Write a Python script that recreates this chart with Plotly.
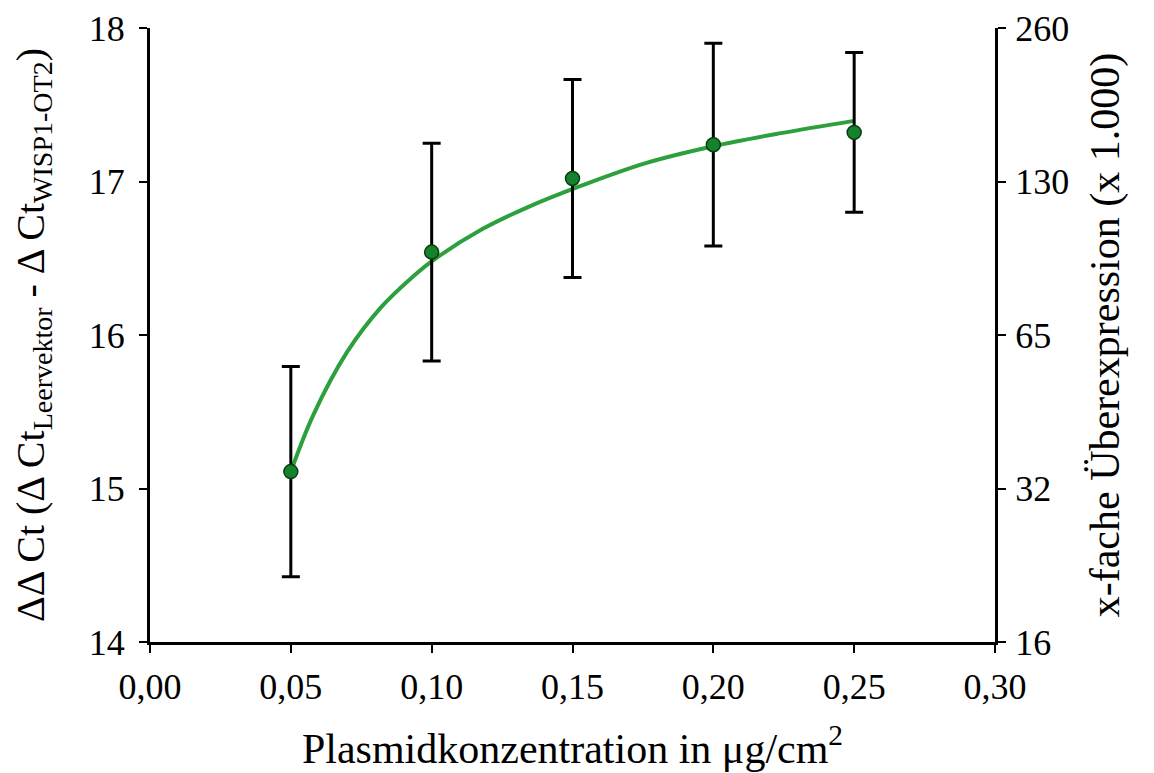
import plotly.graph_objects as go

# Measured points
conc = [0.05, 0.10, 0.15, 0.20, 0.25]
ddct = [15.11, 16.54, 17.02, 17.24, 17.32]
err = [0.685, 0.71, 0.645, 0.66, 0.52]

# Fitted trend curve
fit_x = [0.05, 0.058, 0.07, 0.082, 0.093, 0.10, 0.118, 0.135, 0.152, 0.176, 0.20, 0.224, 0.25]
fit_y = [15.11, 15.48, 15.89, 16.18, 16.375, 16.48, 16.69, 16.84, 16.965, 17.12, 17.23, 17.315, 17.395]

x_ticks = [0.0, 0.05, 0.10, 0.15, 0.20, 0.25, 0.30]
x_ticktext = ["0,00", "0,05", "0,10", "0,15", "0,20", "0,25", "0,30"]
y_ticks = [14, 15, 16, 17, 18]
y2_ticktext = ["16", "32", "65", "130", "260"]

FONT = "Liberation Serif"
TICK_SIZE = 36
TITLE_SIZE = 42

fig = go.Figure()
fig.add_trace(go.Scatter(
    x=fit_x, y=fit_y, mode="lines", line=dict(color="#2ca03c", width=4, shape="spline"),
    showlegend=False, hoverinfo="skip"))
fig.add_trace(go.Scatter(
    x=conc, y=ddct, mode="markers",
    marker=dict(color="#15832b", size=14, line=dict(color="#0b3d14", width=1.5)),
    error_y=dict(type="data", array=err, visible=True, color="black", thickness=3, width=9),
    showlegend=False))
# invisible trace to anchor right axis
fig.add_trace(go.Scatter(x=conc, y=ddct, yaxis="y2", mode="markers",
                         marker=dict(opacity=0), showlegend=False, hoverinfo="skip"))

axis_common = dict(showgrid=False, zeroline=False, showline=True, linecolor="black",
                   linewidth=3, ticks="outside", tickcolor="black", tickwidth=2, ticklen=8,
                   automargin=False,
                   tickfont=dict(family=FONT, size=TICK_SIZE, color="black"))

fig.update_layout(
    width=1154, height=773,
    margin=dict(l=142, r=167, t=20, b=139),
    paper_bgcolor="white", plot_bgcolor="white",
    font=dict(family=FONT, color="black"),
    xaxis=dict(range=[0, 0.30], tickvals=x_ticks, ticktext=x_ticktext, ticklabelstandoff=3,
               title=dict(text="Plasmidkonzentration in μg/cm<sup>2</sup>",
                          font=dict(family=FONT, size=TITLE_SIZE, color="black"), standoff=28),
               **axis_common),
    yaxis=dict(range=[14, 18], tickvals=y_ticks, ticklabelstandoff=7,
               title=dict(text="ΔΔ Ct (Δ Ct<sub>Leervektor</sub> - Δ Ct<sub>WISP1-OT2</sub>)",
                          font=dict(family=FONT, size=40, color="black"), standoff=40),
               **axis_common),
    yaxis2=dict(range=[14, 18], tickvals=y_ticks, ticktext=y2_ticktext, overlaying="y",
                side="right", ticklabelstandoff=2,
                title=dict(text="x-fache Überexpression (x 1.000)",
                           font=dict(family=FONT, size=TITLE_SIZE, color="black"), standoff=22),
                **axis_common),
)

fig.write_html("out.html")
